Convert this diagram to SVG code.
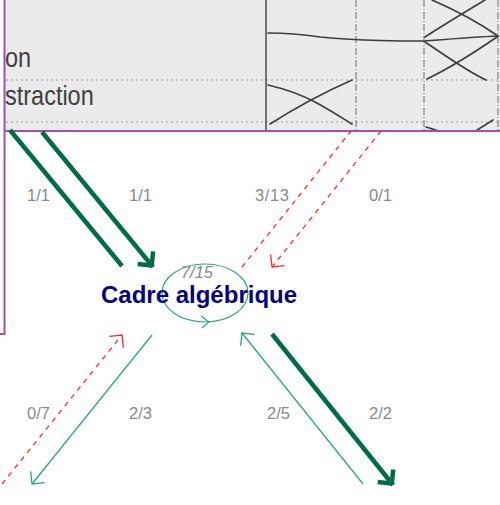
<svg xmlns="http://www.w3.org/2000/svg" width="500" height="505" viewBox="0 0 500 505">
  <style>
    .lbl { font-family: "Liberation Sans", Arial, sans-serif; font-size: 16.5px; fill: #8a8a8a; }
    .node { font-family: "Liberation Sans", Arial, sans-serif; font-size: 24px; font-weight: bold; fill: #000080; }
    .thick { stroke: #006b47; stroke-width: 4.5; fill: none; }
    .thin { stroke: #2fa678; stroke-width: 1.3; fill: none; }
    .red { stroke: #ff2a2a; stroke-width: 1.3; fill: none; stroke-dasharray: 5 5; }
    .frame { stroke: #a050b0; stroke-width: 2; fill: none; }
    .pen { stroke: #3e3e3e; stroke-width: 1.7; fill: none; stroke-linecap: round; }
    .rule { stroke: #9a9a9a; stroke-width: 1; fill: none; stroke-dasharray: 2 3; }
    .vrule { stroke: #777; stroke-width: 1.1; fill: none; stroke-dasharray: 7 2 1 2; }
    .scan { font-family: "Liberation Sans", Arial, sans-serif; font-size: 23.5px; fill: #404040; }
  </style>
  <defs>
    <marker id="hThick" markerUnits="userSpaceOnUse" viewBox="-14 -12 16 24" markerWidth="16" markerHeight="24" refX="2" refY="0" orient="auto">
      <path d="M-10,-10 L0,0 L-10,10" fill="none" stroke="#006b47" stroke-width="4.5" stroke-linejoin="miter"/>
    </marker>
    <marker id="hThin" markerUnits="userSpaceOnUse" viewBox="-12 -10 14 20" markerWidth="14" markerHeight="20" refX="0" refY="0" orient="auto">
      <path d="M-9,-9 L0,0 L-9,9" fill="none" stroke="#2fa678" stroke-width="1.3"/>
    </marker>
    <marker id="hRed" markerUnits="userSpaceOnUse" viewBox="-12 -10 14 20" markerWidth="14" markerHeight="20" refX="0" refY="0" orient="auto">
      <path d="M-9,-9 L0,0 L-9,9" fill="none" stroke="#ff2a2a" stroke-width="1.3"/>
    </marker>
    <clipPath id="photoClip">
      <rect x="5" y="0" width="495" height="130"/>
    </clipPath>
  </defs>

  <!-- scanned table picture -->
  <g id="photo" clip-path="url(#photoClip)">
    <rect x="5" y="0" width="495" height="131" fill="#ebebeb"/>
    <line class="rule" x1="6" y1="80" x2="500" y2="80"/>
    <line class="rule" x1="6" y1="122" x2="500" y2="122"/>
    <line x1="266" y1="0" x2="266" y2="130" stroke="#555" stroke-width="1.6"/>
    <line class="vrule" x1="356" y1="0" x2="356" y2="130"/>
    <line class="vrule" x1="424" y1="0" x2="424" y2="130" stroke="#555"/>
    <line class="vrule" x1="498" y1="0" x2="498" y2="130"/>
    <path class="pen" d="M268,33 C285,33 300,34 320,37 C340,39 356,40 380,40.5 C400,41 415,41 424,41 C450,39 475,37 498,36"/>
    <path class="pen" d="M432,0 C455,10 478,22 498,36"/>
    <path class="pen" d="M425,37 C445,24 465,12 485,0"/>
    <path class="pen" d="M425,42 C445,55 465,70 486,80"/>
    <path class="pen" d="M427,79 C450,68 475,52 497,37"/>
    <path class="pen" d="M268,85 C285,89 300,94 315,102 C330,110 342,118 352,124"/>
    <path class="pen" d="M270,124 C295,108 325,92 352,80"/>
    <path class="pen" d="M426,127 L442,132"/>
    <path class="pen" d="M474,132 L493,120"/>
    <text class="scan" x="5" y="67" transform="translate(0,-12.4) scale(1,1.185)">on</text>
    <text class="scan" x="5" y="105" transform="translate(0,-19.4) scale(1,1.185)">straction</text>
  </g>
  <line class="frame" x1="4.5" y1="131" x2="500" y2="131"/>
  <path class="frame" d="M4.5,0 L4.5,334 L0,334"/>

  <!-- connectors -->
  <g id="connectors">
    <g id="c-top-left-out">
      <line class="thick" x1="122" y1="266" x2="10" y2="130"/>
      <text class="lbl" x="27" y="201">1/1</text>
    </g>
    <g id="c-top-left-in">
      <line class="thick" x1="42" y1="132" x2="153" y2="267" marker-end="url(#hThick)"/>
      <text class="lbl" x="129" y="201">1/1</text>
    </g>
    <g id="c-top-right-out">
      <line class="red" x1="242" y1="267" x2="351" y2="131"/>
      <text class="lbl" x="255" y="201" letter-spacing="0.6">3/13</text>
    </g>
    <g id="c-top-right-in">
      <line class="red" x1="381" y1="131" x2="272" y2="267" marker-end="url(#hRed)"/>
      <text class="lbl" x="369" y="201">0/1</text>
    </g>
    <g id="c-bottom-left-in">
      <line class="red" x1="2" y1="484" x2="122" y2="335" marker-end="url(#hRed)"/>
      <text class="lbl" x="27" y="419">0/7</text>
    </g>
    <g id="c-bottom-left-out">
      <line class="thin" x1="152" y1="335" x2="32" y2="484" marker-end="url(#hThin)"/>
      <text class="lbl" x="129" y="419">2/3</text>
    </g>
    <g id="c-bottom-right-in">
      <line class="thin" x1="363" y1="484" x2="242" y2="333" marker-end="url(#hThin)"/>
      <text class="lbl" x="267" y="419">2/5</text>
    </g>
    <g id="c-bottom-right-out">
      <line class="thick" x1="272" y1="334" x2="393" y2="485" marker-end="url(#hThick)"/>
      <text class="lbl" x="369" y="419">2/2</text>
    </g>
    <g id="c-self-loop">
      <ellipse cx="205" cy="293" rx="43" ry="29" fill="none" stroke="#2fa678" stroke-width="1.2"/>
      <path d="M201,316 L209,322 L202,328" fill="none" stroke="#2fa678" stroke-width="1.2"/>
      <text class="lbl" x="197" y="278" text-anchor="middle" font-style="italic" font-size="15">7/15</text>
    </g>
  </g>

  <!-- node -->
  <g id="node-cadre-algebrique">
    <text class="node" x="101" y="303">Cadre algébrique</text>
  </g>
</svg>
